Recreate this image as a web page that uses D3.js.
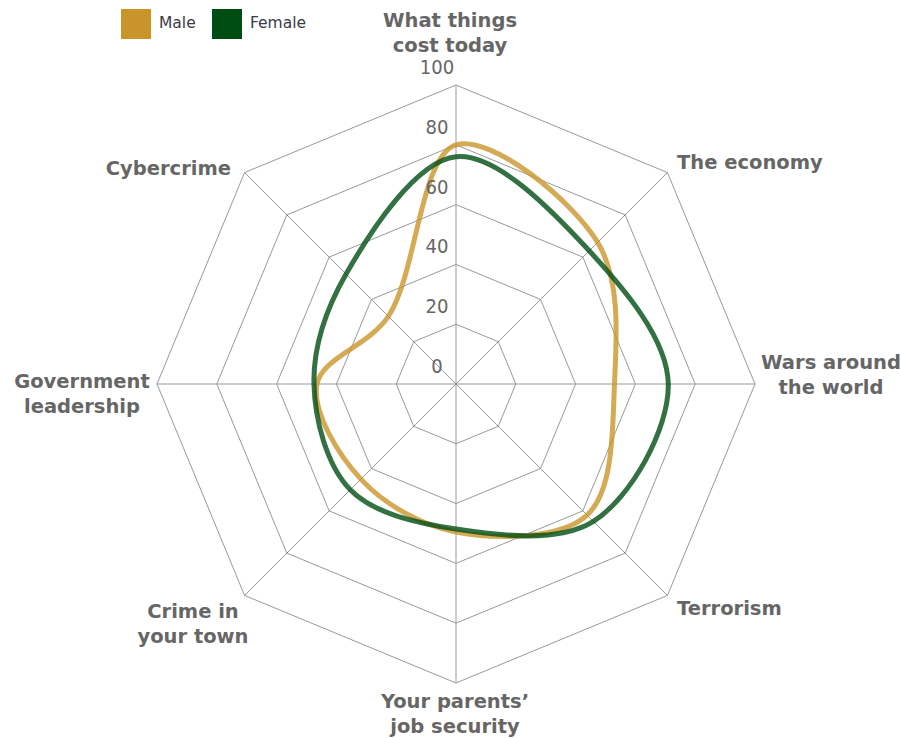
<!DOCTYPE html>
<html>
<head>
<meta charset="utf-8">
<script src="https://cdn.jsdelivr.net/npm/d3@7"></script>
<style>
  html, body { margin: 0; padding: 0; background: #fff; }
  svg { display: block; }
  text { font-family: "DejaVu Sans Condensed", "DejaVu Sans", sans-serif; }
  .cat { font-family: "DejaVu Sans", sans-serif; }
  .leg { font-family: "DejaVu Sans", sans-serif; }
</style>
</head>
<body>
<svg id="chart" width="901" height="738"></svg>
<script>
// Worry categories, clockwise from the top
const categories = [
  ["What things", "cost today"],
  ["The economy"],
  ["Wars around", "the world"],
  ["Terrorism"],
  ["Your parents\u2019", "job security"],
  ["Crime in", "your town"],
  ["Government", "leadership"],
  ["Cybercrime"]
];
const maleValues   = [80, 67, 53, 62, 49.5, 45, 46.5, 32];
const femaleValues = [76, 63, 71, 65, 48.5, 50, 47.5, 52];
const tickValues = [0, 20, 40, 60, 80, 100];
const seriesNames = ["Male", "Female"];
const seriesColors = ["#C9952B", "#004D14"];

const svg = d3.select("#chart");
const cx = 456, cy = 384, outer = 299;

const r = d3.scaleLinear().domain([0, 100]).range([0, outer]);
const angle = d3.scaleLinear().domain([0, categories.length]).range([0, 2 * Math.PI]);

const toXY = (i, v) => {
  const a = angle(i);
  return [cx + r(v) * Math.sin(a), cy - r(v) * Math.cos(a)];
};

const grid = svg.append("g");
// Polygon rings
tickValues.filter(t => t > 0).forEach(t => {
  const pts = categories.map((_, i) => toXY(i, t));
  grid.append("path")
    .attr("d", d3.line().curve(d3.curveLinearClosed)(pts))
    .attr("fill", "none")
    .attr("stroke", "#999")
    .attr("stroke-width", 1);
});
// Spokes
categories.forEach((_, i) => {
  const [x, y] = toXY(i, 100);
  grid.append("line")
    .attr("x1", cx).attr("y1", cy).attr("x2", x).attr("y2", y)
    .attr("stroke", "#999").attr("stroke-width", 1);
});

// Series outlines: smooth closed curves through each category value
const radial = d3.lineRadial()
  .angle((d, i) => angle(i))
  .radius(d => r(d))
  .curve(d3.curveCatmullRomClosed.alpha(0.5));

const series = [maleValues, femaleValues];
series.forEach((vals, k) => {
  svg.append("path")
    .attr("transform", `translate(${cx},${cy})`)
    .attr("d", radial(vals))
    .attr("fill", "none")
    .attr("stroke", seriesColors[k])
    .attr("stroke-opacity", 0.8)
    .attr("stroke-width", 5)
    .attr("stroke-linejoin", "round");
});

// Radial tick labels
tickValues.forEach(t => {
  svg.append("text")
    .attr("x", cx - 19)
    .attr("y", cy - r(t) - 11)
    .attr("text-anchor", "middle")
    .attr("font-size", 20)
    .attr("fill", "#666")
    .text(t);
});

// Category labels
const labelPos = [
  { x: 450, y: 27, anchor: "middle" },
  { x: 677, y: 169, anchor: "start" },
  { x: 831, y: 369, anchor: "middle" },
  { x: 677, y: 615, anchor: "start" },
  { x: 455, y: 708, anchor: "middle" },
  { x: 193, y: 618, anchor: "middle" },
  { x: 82, y: 388, anchor: "middle" },
  { x: 231, y: 175, anchor: "end" }
];
categories.forEach((lines, i) => {
  const p = labelPos[i];
  const t = svg.append("text")
    .attr("class", "cat")
    .attr("x", p.x).attr("y", p.y)
    .attr("text-anchor", p.anchor)
    .attr("font-size", 19.5)
    .attr("font-weight", "bold")
    .attr("fill", "#666");
  lines.forEach((ln, j) => {
    t.append("tspan").attr("x", p.x).attr("dy", j === 0 ? 0 : 25).text(ln);
  });
});

// Legend
const legend = svg.append("g");
const legendX = [121, 212];
seriesNames.forEach((name, k) => {
  legend.append("rect")
    .attr("x", legendX[k]).attr("y", 9)
    .attr("width", 30).attr("height", 30)
    .attr("fill", seriesColors[k]);
  legend.append("text")
    .attr("class", "leg")
    .attr("x", legendX[k] + 38).attr("y", 28)
    .attr("font-size", 15.5)
    .attr("fill", "#3a3a48")
    .text(name);
});
</script>
</body>
</html>
